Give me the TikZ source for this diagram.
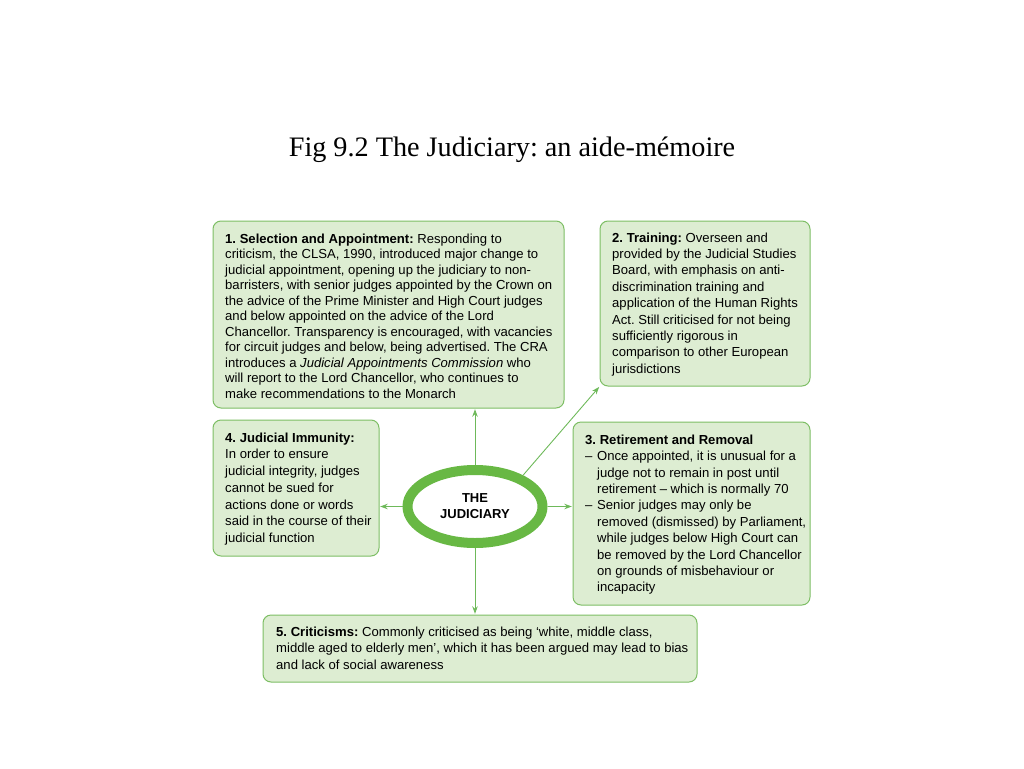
\documentclass[tikz,border=0pt]{standalone}
\usepackage{fontspec}
\setmainfont{Liberation Sans}
\newfontfamily\titlefont{Liberation Serif}
\usetikzlibrary{arrows.meta,shapes.geometric}
\definecolor{boxfill}{RGB}{221,237,210}
\definecolor{boxline}{RGB}{125,190,100}
\definecolor{ellline}{RGB}{104,184,68}
\definecolor{arrline}{RGB}{110,185,90}
\frenchspacing
\tikzset{
  panel/.style={draw=boxline, fill=boxfill, line width=1pt, rounded corners=8pt, inner sep=0pt},
  paneltext/.style={anchor=north west, align=left, inner sep=0pt, font=\fontsize{13.1}{16.4}\selectfont},
  link/.style={draw=arrline, line width=0.9pt, -{Stealth[length=7.5pt,width=5.5pt]}, shorten >=1pt},
}
\begin{document}
\begin{tikzpicture}[x=1pt,y=-1pt]
\useasboundingbox (0,0) rectangle (1024,768);
\node[anchor=base, inner sep=0pt, font=\titlefont\fontsize{28.2}{32}\selectfont] (title) at (512,156) {Fig 9.2 The Judiciary: an aide-mémoire};

% boxes
\path[panel] (213,221) rectangle (564,408);
\node[inner sep=0pt, minimum width=351pt, minimum height=187pt] (b1) at (388.5,314.5) {};
\path[panel] (600,221) rectangle (810,386);
\node[inner sep=0pt, minimum width=210pt, minimum height=165pt] (b2) at (705,303.5) {};
\path[panel] (573,422) rectangle (810,605);
\node[inner sep=0pt, minimum width=237pt, minimum height=183pt] (b3) at (691.5,513.5) {};
\path[panel] (213,420) rectangle (379,556);
\node[inner sep=0pt, minimum width=166pt, minimum height=136pt] (b4) at (296,488) {};
\path[panel] (263,615) rectangle (697,682);
\node[inner sep=0pt, minimum width=434pt, minimum height=67pt] (b5) at (480,648.5) {};

% texts
\node[paneltext, font=\fontsize{13.1}{15.5}\selectfont] (t1) at (225,233.5) {\textbf{1. Selection and Appointment:} Responding to\\
criticism, the CLSA, 1990, introduced major change to\\
judicial appointment, opening up the judiciary to non-\\
barristers, with senior judges appointed by the Crown on\\
the advice of the Prime Minister and High Court judges\\
and below appointed on the advice of the Lord\\
Chancellor. Transparency is encouraged, with vacancies\\
for circuit judges and below, being advertised. The CRA\\
introduces a \textit{Judicial Appointments Commission} who\\
will report to the Lord Chancellor, who continues to\\
make recommendations to the Monarch};

\node[paneltext] (t2) at (612,232.5) {\textbf{2. Training:} Overseen and\\
provided by the Judicial Studies\\
Board, with emphasis on anti-\\
discrimination training and\\
application of the Human Rights\\
Act. Still criticised for not being\\
sufficiently rigorous in\\
comparison to other European\\
jurisdictions};

\node[paneltext] (t3) at (585,434.5) {\textbf{3. Retirement and Removal}\\
\makebox[12pt][l]{–}Once appointed, it is unusual for a\\
\hspace*{12pt}judge not to remain in post until\\
\hspace*{12pt}retirement – which is normally 70\\
\makebox[12pt][l]{–}Senior judges may only be\\
\hspace*{12pt}removed (dismissed) by Parliament,\\
\hspace*{12pt}while judges below High Court can\\
\hspace*{12pt}be removed by the Lord Chancellor\\
\hspace*{12pt}on grounds of misbehaviour or\\
\hspace*{12pt}incapacity};

\node[paneltext, font=\fontsize{13.1}{16.7}\selectfont] (t4) at (225,432.5) {\textbf{4. Judicial Immunity:}\\
In order to ensure\\
judicial integrity, judges\\
cannot be sued for\\
actions done or words\\
said in the course of their\\
judicial function};

\node[paneltext] (t5) at (276,626.5) {\textbf{5. Criticisms:} Commonly criticised as being ‘white, middle class,\\
middle aged to elderly men’, which it has been argued may lead to bias\\
and lack of social awareness};

% centre
\node[draw=ellline, fill=white, line width=10pt, ellipse, minimum width=135pt, minimum height=73pt, inner sep=0pt, align=center, font=\bfseries\fontsize{13}{16}\selectfont] (ell) at (475,506.5) {THE\\JUDICIARY};

% connectors
\draw[link] (ell.north) -- (ell.north |- b1.south);
\draw[link] (ell.south) -- (ell.south |- b5.north);
\draw[link] (ell.west) -- (ell.west -| b4.east);
\draw[link] (ell.east) -- (ell.east -| b3.west);
\draw[link] (ell.33) -- (b2.south west);
\end{tikzpicture}
\end{document}
